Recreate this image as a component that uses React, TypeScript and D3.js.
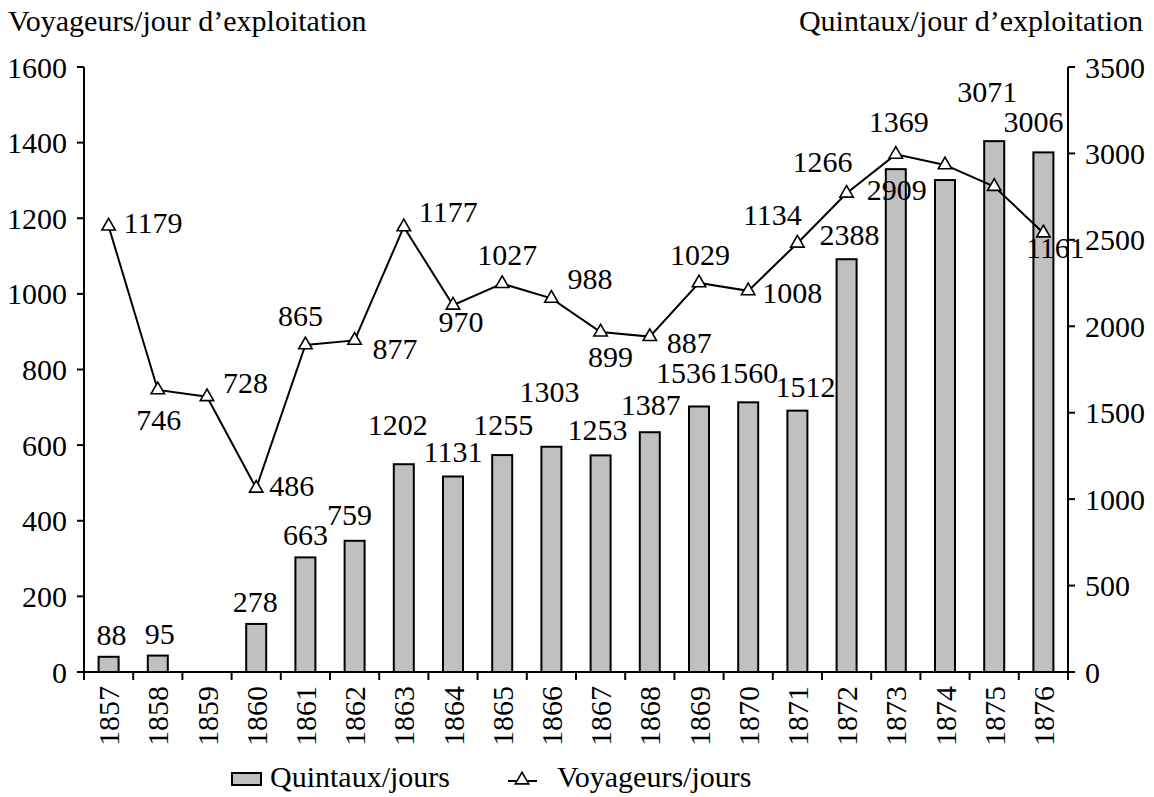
import * as d3 from 'd3'

const years = ['1857', '1858', '1859', '1860', '1861', '1862', '1863', '1864', '1865', '1866',
  '1867', '1868', '1869', '1870', '1871', '1872', '1873', '1874', '1875', '1876']
// voyageurs par jour d'exploitation (left axis)
const voyageurs = [1179, 746, 728, 486, 865, 877, 1177, 970, 1027, 988,
  899, 887, 1029, 1008, 1134, 1266, 1369, 1341, 1284, 1161]
// quintaux par jour d'exploitation (right axis), none for 1859
const quintaux = [88, 95, null, 278, 663, 759, 1202, 1131, 1255, 1303,
  1253, 1387, 1536, 1560, 1512, 2388, 2909, 2846, 3071, 3006]
const leftTicks = [0, 200, 400, 600, 800, 1000, 1200, 1400, 1600]
const rightTicks = [0, 500, 1000, 1500, 2000, 2500, 3000, 3500]

// label placement [dx, dy to baseline, anchor], null = not labelled
type Place = [number, number, string] | null
const lineLabelPlace: Place[] = [
  [15, 7, 'start'], [1, 40, 'middle'], [16, -4, 'start'], [13, 8, 'start'], [-5, -19, 'middle'],
  [18, 19, 'start'], [15, -5, 'start'], [8, 27, 'middle'], [5, -19, 'middle'], [16, -9, 'start'],
  [10, 35, 'middle'], [17, 16, 'start'], [1, -18, 'middle'], [14, 12, 'start'], [-25, -18, 'middle'],
  [-24, -21, 'middle'], [3, -22, 'middle'], null, null, [12, 25, 'middle'],
]
const barLabelPlace: Place[] = [
  [3, -12, 'middle'], [2, -12, 'middle'], null, [-1, -12, 'middle'], [0, -12, 'middle'],
  [-5, -16, 'middle'], [-6, -29, 'middle'], [0, -14, 'middle'], [1, -20, 'middle'], [-2, -45, 'middle'],
  [-3, -15, 'middle'], [1, -17, 'middle'], [-13, -23, 'middle'], [0, -19, 'middle'], [8, -14, 'middle'],
  [3, -14, 'middle'], [1, 31, 'middle'], null, [-7, -39, 'middle'], [-10, -20, 'middle'],
]

const W = 1154
const H = 797
const left = 84
const right = 1068
const top = 67
const bottom = 672
const font = '"Liberation Serif", "Times New Roman", serif'
const fs = 30

export default function App() {
  const x = d3.scaleBand().domain(years).range([left, right]).padding(0)
  const yL = d3.scaleLinear().domain([0, 1600]).range([bottom, top])
  const yR = d3.scaleLinear().domain([0, 3500]).range([bottom, top])
  const cx = (i: number) => (x(years[i]) || 0) + x.bandwidth() / 2
  const barW = 20

  const line = d3
    .line<number>()
    .x((_, i) => cx(i))
    .y(d => yL(d))
  const tri = d3.symbol().type(d3.symbolTriangle).size(78)()

  return (
    <svg width={W} height={H} style={{position: 'absolute', left: 0, top: 0, background: '#fff'}}
      fontFamily={font} fontSize={fs}>
      <text x={8} y={31}>Voyageurs/jour d’exploitation</text>
      <text x={1143} y={31} textAnchor="end">Quintaux/jour d’exploitation</text>

      {/* bars */}
      {quintaux.map((v, i) =>
        v == null ? null : (
          <rect key={'b' + i} x={cx(i) - barW / 2} y={yR(v)} width={barW} height={bottom - yR(v)}
            fill="#c0c0c0" stroke="#000" strokeWidth={2} />
        ))}

      {/* left axis */}
      <line x1={left} x2={left} y1={top} y2={bottom} stroke="#000" strokeWidth={2} />
      {leftTicks.map(t => (
        <g key={'l' + t}>
          <line x1={left - 7} x2={left} y1={yL(t)} y2={yL(t)} stroke="#000" strokeWidth={2} />
          <text x={67} y={yL(t)} dy="0.35em" textAnchor="end">{t}</text>
        </g>
      ))}

      {/* right axis */}
      <line x1={right} x2={right} y1={top} y2={bottom} stroke="#000" strokeWidth={2} />
      {rightTicks.map(t => (
        <g key={'r' + t}>
          <line x1={right} x2={right + 7} y1={yR(t)} y2={yR(t)} stroke="#000" strokeWidth={2} />
          <text x={1085} y={yR(t)} dy="0.35em">{t}</text>
        </g>
      ))}

      {/* bottom axis */}
      <line x1={left - 7} x2={right} y1={bottom} y2={bottom} stroke="#000" strokeWidth={2} />
      {d3.range(years.length + 1).map(i => {
        const bx = left + i * x.step()
        return <line key={'t' + i} x1={bx} x2={bx} y1={bottom} y2={bottom + 8} stroke="#000" strokeWidth={2} />
      })}
      {years.map((yr, i) => (
        <text key={'y' + yr} transform={`translate(${cx(i)},686) rotate(-90)`} textAnchor="end" dy="0.35em">
          {yr}
        </text>
      ))}

      {/* line */}
      <path d={line(voyageurs) || ''} fill="none" stroke="#000" strokeWidth={2} />
      {voyageurs.map((v, i) => (
        <path key={'m' + i} d={tri || ''} transform={`translate(${cx(i)},${yL(v)})`}
          fill="#fff" stroke="#000" strokeWidth={1.6} />
      ))}

      {/* bar labels */}
      {quintaux.map((v, i) => {
        const p = barLabelPlace[i]
        if (v == null || !p) return null
        return (
          <text key={'bl' + i} x={cx(i) + p[0]} y={yR(v) + p[1]} textAnchor={p[2]}>{v}</text>
        )
      })}

      {/* line labels */}
      {voyageurs.map((v, i) => {
        const p = lineLabelPlace[i]
        if (!p) return null
        return (
          <text key={'ll' + i} x={cx(i) + p[0]} y={yL(v) + p[1]} textAnchor={p[2]}>{v}</text>
        )
      })}

      {/* legend */}
      <rect x={232} y={773} width={29} height={12} fill="#c0c0c0" stroke="#000" strokeWidth={2} />
      <text x={270} y={787}>Quintaux/jours</text>
      <line x1={508} x2={537} y1={781} y2={781} stroke="#000" strokeWidth={2} />
      <path d={tri || ''} transform="translate(522,780)" fill="#fff" stroke="#000" strokeWidth={1.6} />
      <text x={557} y={787}>Voyageurs/jours</text>
    </svg>
  )
}
